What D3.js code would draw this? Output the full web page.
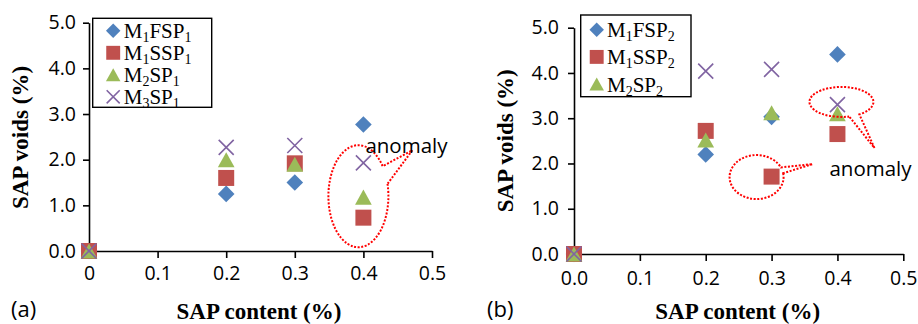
<!DOCTYPE html>
<html>

<head>
    <meta charset="UTF-8">
    <title>SAP voids vs SAP content</title>
    <script src="https://d3js.org/d3.v7.min.js"></script>
    <style>
        body { margin: 0; background: #fff; }
    </style>
</head>

<body>
    <script>
        // values
        const sapContent = [0, 0.2, 0.3, 0.4];

        const m1fsp1 = [0, 1.25, 1.5, 2.77];
        const m1ssp1 = [0, 1.6, 1.92, 0.73];
        const m2sp1 = [0, 2.0, 1.9, 1.18];
        const m3sp1 = [0, 2.27, 2.31, 1.93];

        const m1fsp2 = [0, 2.2, 3.03, 4.41];
        const m1ssp2 = [0, 2.72, 1.71, 2.65];
        const m2sp2 = [0, 2.52, 3.12, 3.1];
        const m3sp2 = [0, 4.04, 4.08, 3.3];   // plotted in (b) but has no legend entry

        const yTicks = [0, 1, 2, 3, 4, 5];
        const xTicks = [0, 0.1, 0.2, 0.3, 0.4, 0.5];
        const xTickLabelsA = ["0", "0.1", "0.2", "0.3", "0.4", "0.5"];
        const xTickLabelsB = ["0.0", "0.1", "0.2", "0.3", "0.4", "0.5"];

        const legendA = ["M_1FSP_1", "M_1SSP_1", "M_2SP_1", "M_3SP_1"];
        const legendB = ["M_1FSP_2", "M_1SSP_2", "M_2SP_2"];

        const colors = { diamond: "#4F81BD", square: "#C0504D", triangle: "#9BBB59", cross: "#8064A2" };

        const width = 918, height = 324;
        const sans = "'Open Sans', sans-serif";
        const serif = "'Liberation Serif', 'Times New Roman', serif";

        // excel-like marker shapes
        const shapes = {
            diamond: {
                draw(ctx, size) {
                    const r = Math.sqrt(size / 2);
                    ctx.moveTo(0, -r); ctx.lineTo(r, 0); ctx.lineTo(0, r); ctx.lineTo(-r, 0); ctx.closePath();
                }
            },
            square: d3.symbolSquare,
            triangle: {
                draw(ctx, size) {
                    const w = Math.sqrt(size), h = w * 0.9;
                    ctx.moveTo(0, -h / 2); ctx.lineTo(w / 2, h / 2); ctx.lineTo(-w / 2, h / 2); ctx.closePath();
                }
            },
            cross: {
                draw(ctx, size) {
                    const r = Math.sqrt(size) / 2;
                    ctx.moveTo(-r, -r); ctx.lineTo(r, r); ctx.moveTo(r, -r); ctx.lineTo(-r, r);
                }
            }
        };
        const sizes = { diamond: 138, square: 256, triangle: 279, cross: 225 };

        const svg = d3.select("body").append("svg")
            .attr("width", width).attr("height", height);

        function marker(g, shape, x, y, k) {
            const p = g.append("path")
                .attr("d", d3.symbol().type(shapes[shape]).size(sizes[shape] * k * k)())
                .attr("transform", `translate(${x},${y})`);
            if (shape === "cross") {
                p.attr("fill", "none").attr("stroke", colors.cross).attr("stroke-width", 1.6);
            } else {
                p.attr("fill", colors[shape]);
            }
        }

        // "M_1FSP_1" -> M, sub 1, FSP, sub 1
        function subText(textSel, label) {
            const parts = label.split(/_(\d)/);
            parts.forEach((s, i) => {
                if (!s) return;
                const sub = i % 2 === 1;
                textSel.append("tspan")
                    .attr("font-size", sub ? 14 : 21)
                    .attr("dy", sub ? 4 : (i > 0 && parts[i - 1] ? -4 : 0))
                    .text(s);
            });
        }

        // dotted callout: ellipse with a tail, angles in degrees, a0 < a1 going the long way round
        function callout(g, cx, cy, rx, ry, a0, a1, tx, ty) {
            const pt = a => [cx + rx * Math.cos(a * Math.PI / 180), cy + ry * Math.sin(a * Math.PI / 180)];
            const [x0, y0] = pt(a0), [x1, y1] = pt(a1);
            g.append("path")
                .attr("d", `M${x0},${y0} A${rx},${ry} 0 1 1 ${x1},${y1} L${cx + tx},${cy + ty} Z`)
                .attr("fill", "none")
                .attr("stroke", "#FF0000")
                .attr("stroke-width", 2)
                .attr("stroke-dasharray", "2 1.6");
        }

        function drawPanel(cfg) {
            const x = d3.scaleLinear().domain([0, 0.5]).range(cfg.xRange);
            const y = d3.scaleLinear().domain([0, 5]).range(cfg.yRange);
            const g = svg.append("g");

            const yAxis = g.append("g")
                .attr("transform", `translate(${cfg.xRange[0]},0)`)
                .call(d3.axisLeft(y).tickValues(yTicks).tickSize(6).tickSizeOuter(0)
                    .tickPadding(cfg.yPad).tickFormat(d3.format(".1f")));
            const xAxis = g.append("g")
                .attr("transform", `translate(0,${cfg.yRange[0]})`)
                .call(d3.axisBottom(x).tickValues(xTicks).tickSize(7).tickSizeOuter(0)
                    .tickPadding(cfg.xPad).tickFormat((d, i) => cfg.xLabels[i]));

            [xAxis, yAxis].forEach(a => {
                a.selectAll("path, line").attr("stroke", "#000").attr("stroke-width", 1.6);
                a.selectAll("text").attr("font-family", sans).attr("font-size", 19.5).attr("fill", "#000");
            });

            // axis titles
            g.append("text")
                .attr("transform", `translate(${cfg.yTitle[0]},${cfg.yTitle[1]}) rotate(-90)`)
                .attr("text-anchor", "middle")
                .attr("font-family", serif).attr("font-weight", "bold").attr("font-size", 23)
                .text("SAP voids (%)");
            g.append("text")
                .attr("x", cfg.xTitle[0]).attr("y", cfg.xTitle[1])
                .attr("text-anchor", "middle")
                .attr("font-family", serif).attr("font-weight", "bold").attr("font-size", 23)
                .text("SAP content (%)");
            g.append("text")
                .attr("x", cfg.tag[0]).attr("y", cfg.tag[1])
                .attr("font-family", sans).attr("font-size", 22)
                .text(cfg.tagText);

            // points
            cfg.series.forEach(s => {
                sapContent.forEach((c, i) => marker(g, s.shape, x(c), y(s.values[i]), 1));
            });

            // legend
            const lg = g.append("g");
            const L = cfg.legend;
            lg.append("rect")
                .attr("x", L.x).attr("y", L.y).attr("width", L.w).attr("height", L.h)
                .attr("fill", "#fff");
            cfg.series.filter(s => s.label).forEach((s, i) => {
                const by = L.y + L.first + i * L.step;
                marker(lg, s.shape, L.x + L.mx, by - 7.5, 0.87);
                const t = lg.append("text")
                    .attr("x", L.x + L.tx).attr("y", by)
                    .attr("font-family", serif).attr("fill", "#000");
                subText(t, s.label);
            });
            lg.append("rect")
                .attr("x", L.x).attr("y", L.y).attr("width", L.w).attr("height", L.h)
                .attr("fill", "none").attr("stroke", "#000").attr("stroke-width", 1.4);

            // anomaly annotations
            cfg.callouts.forEach(c => {
                callout(g, x(c.at[0]) + c.dx, y(c.at[1]), c.rx, c.ry, c.a0, c.a1, c.tip[0], c.tip[1]);
            });
            g.append("text")
                .attr("x", x(cfg.anomaly[0]) + cfg.anomaly[2]).attr("y", y(cfg.anomaly[1]))
                .attr("font-family", sans).attr("font-size", 20.5).attr("fill", "#000")
                .text("anomaly");
        }

        drawPanel({
            xRange: [89, 432], yRange: [251, 22.7],
            xLabels: xTickLabelsA, yPad: 7, xPad: 8,
            yTitle: [28, 137.5], xTitle: [259, 319], tag: [11, 317], tagText: "(a)",
            series: [
                { label: legendA[0], values: m1fsp1, shape: "diamond" },
                { label: legendA[1], values: m1ssp1, shape: "square" },
                { label: legendA[2], values: m2sp1, shape: "triangle" },
                { label: legendA[3], values: m3sp1, shape: "cross" }
            ],
            legend: { x: 92.7, y: 18.3, w: 119, h: 89, first: 20, step: 22, mx: 20.5, tx: 31 },
            callouts: [
                { at: [0.4, 1.2], dx: -5, rx: 30, ry: 51, a0: -14, a1: 324, tip: [54, -46] }
            ],
            anomaly: [0.4, 2.14, 2]
        });

        drawPanel({
            xRange: [574, 903.3], yRange: [254, 27.7],
            xLabels: xTickLabelsB, yPad: 9, xPad: 10,
            yTitle: [513, 140.8], xTitle: [737.7, 319], tag: [487, 317], tagText: "(b)",
            series: [
                { label: legendB[0], values: m1fsp2, shape: "diamond" },
                { label: legendB[1], values: m1ssp2, shape: "square" },
                { label: legendB[2], values: m2sp2, shape: "triangle" },
                { label: null, values: m3sp2, shape: "cross" }
            ],
            legend: { x: 580.7, y: 15, w: 110.3, h: 81.7, first: 22.3, step: 27.1, mx: 16, tx: 26.3 },
            callouts: [
                { at: [0.3, 1.7], dx: -15, rx: 27, ry: 22, a0: -10, a1: 334, tip: [56, -13] },
                { at: [0.4, 3.36], dx: 4, rx: 32, ry: 15, a0: 76, a1: 416, tip: [33, 46] }
            ],
            anomaly: [0.4, 1.72, -8]
        });
    </script>
</body>

</html>
